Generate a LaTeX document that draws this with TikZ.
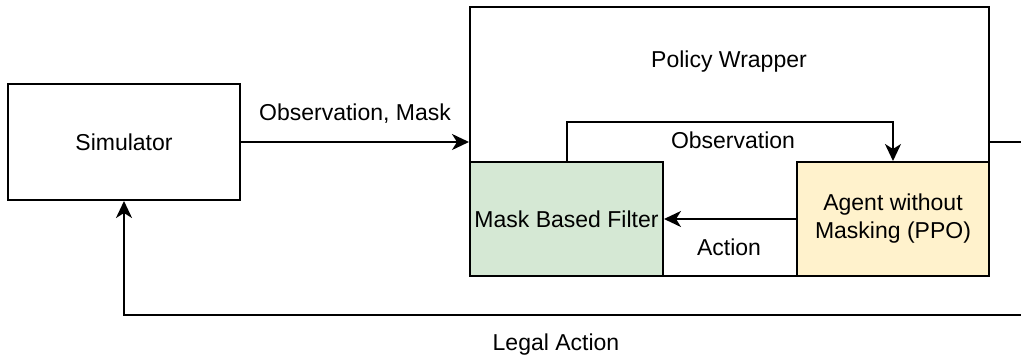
\documentclass[tikz,border=0pt]{standalone}
\usepackage{fontspec}
\setmainfont{Liberation Sans}
\usepackage{xcolor}
\definecolor{ColFilter}{RGB}{213,232,212}
\definecolor{ColAgent}{RGB}{255,242,204}
\usepackage{tikz}
\usetikzlibrary{arrows.meta}
\tikzstyle{Box}=[draw=black,line width=2pt,inner sep=2pt,align=center,
font=\fontsize{23}{28}\selectfont]
\tikzstyle{Edge}=[draw=black,line width=2pt]
\tikzstyle{Arrow}=[Edge,-{Stealth[length=17pt,width=16pt,inset=5pt]}]
\tikzstyle{Label}=[anchor=base,inner sep=0pt,font=\fontsize{23}{28}\selectfont]

\begin{document}
\begin{tikzpicture}[x=1pt,y=-1pt]
    \useasboundingbox (0,0) rectangle (1021,356);
        \node[Box,minimum width=232,minimum height=116](sim)at(124,142)
            {Simulator};
        \node[Box,minimum width=519,minimum height=269](wrap)at(729.5,141.5){};
        \node[Box,fill=ColFilter,minimum width=193,minimum height=114]
            (filter)at(566.5,219){Mask Based Filter};
        \node[Box,fill=ColAgent,minimum width=192,minimum height=114]
            (agent)at(893,219){Agent without\\Masking (PPO)};
        \node[Label](wraplbl)at(729,67){Policy Wrapper};
        \node[Label](obsmask)at(355,120){Observation, Mask};
        \node[Label](obs)at(733,148){Observation};
        \node[Label](act)at(729,255){Action};
        \node[Label](legal)at(556,350){Legal Action};
        \coordinate(c1)at(1040,142);
        \coordinate(c2)at(1040,315);
        \draw[Arrow](sim.east)--(wrap.west|-sim.east);
        \draw[Arrow](filter.north)--++(0,-39)-|(agent.north);
        \draw[Arrow](agent.west)--(filter.east);
        \draw[Arrow](wrap.east|-c1)--(c1)--(c2)-|(sim.south);
    \end{tikzpicture}
\end{document}
